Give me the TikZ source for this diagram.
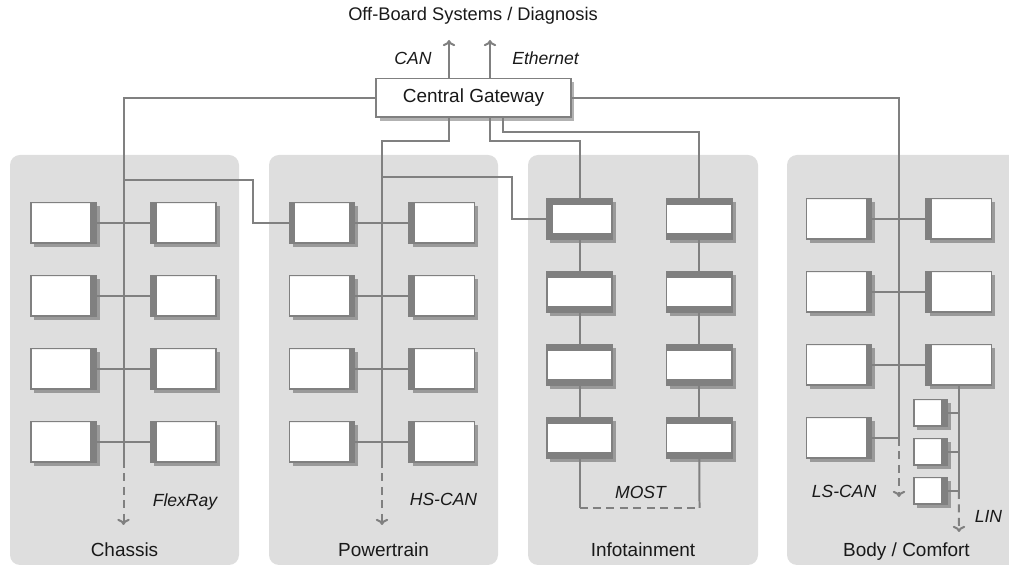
\documentclass[tikz,border=0pt]{standalone}
\usepackage{fontspec}
\setmainfont{Liberation Sans}
\usepackage{xcolor}
\usepackage{tikz}
\usetikzlibrary{positioning, shadows, arrows.meta}
\definecolor{panelgray}{RGB}{222,222,222}
\definecolor{linegray}{RGB}{128,128,128}
\definecolor{txtgray}{RGB}{25,25,25}
\tikzstyle{zone} = [fill=panelgray, rounded corners=0.2cm]
\tikzstyle{ecu} = [rectangle, draw=linegray, line width=0.03cm, fill=white,
    minimum width=1.31cm, minimum height=0.81cm, inner sep=0pt,
    drop shadow={shadow xshift=0.07cm, shadow yshift=-0.07cm, fill=black, opacity=0.3}]
\tikzstyle{linecu} = [ecu, minimum width=0.67cm, minimum height=0.53cm]
\tikzstyle{gateway} = [ecu, minimum width=3.9cm, minimum height=0.77cm]
\tikzstyle{bus} = [draw=linegray, line width=0.04cm]
\tikzstyle{busdash} = [bus, dash pattern=on 0.16cm off 0.11cm]
\tikzstyle{busend} = [busdash, ->]
\tikzstyle{caption} = [anchor=base]
\tikzstyle{buslabel} = [caption, font=\itshape]
\tikzset{
  sides/.style n args={4}{path picture={
    \fill[linegray] (path picture bounding box.south west) rectangle ([xshift=#1*0.02cm]path picture bounding box.north west);
    \fill[linegray] (path picture bounding box.south east) rectangle ([xshift=-#2*0.02cm]path picture bounding box.north east);
    \fill[linegray] (path picture bounding box.north west) rectangle ([yshift=-#3*0.02cm]path picture bounding box.north east);
    \fill[linegray] (path picture bounding box.south west) rectangle ([yshift=#4*0.02cm]path picture bounding box.south east);
  }},
  tapL/.style={sides={6}{0}{0}{0}},
  tapR/.style={sides={0}{6}{0}{0}},
  tapLR/.style={sides={6}{6}{0}{0}},
  tapTB/.style={sides={0}{0}{6}{6}},
  tapLTB/.style={sides={6}{0}{6}{6}}
}

\begin{document}
\begin{tikzpicture}[x=0.02cm, y=-0.02cm, node distance=1.46cm, >={To[length=3.5pt,width=7pt]},
    font=\fontsize{10.8}{13}\selectfont, every node/.style={text=txtgray}]
    \useasboundingbox (0,0) rectangle (1009,567);

    % Zones
    \fill [zone] (10,155) rectangle (239,565);
    \fill [zone] (269,155) rectangle (498,565);
    \fill [zone] (528,155) rectangle (758,565);
    \fill [zone] (787,155) rectangle (1026,565);
    \node [caption] (chassislbl) at (124.5,557) {Chassis};
    \node [caption] (ptlbl) at (383.5,557) {Powertrain};
    \node [caption] (infolbl) at (643,557) {Infotainment};
    \node [caption] (bodylbl) at (906.5,557) {Body / Comfort};

    % Gateway
    \node [gateway] (cgw) at (473.5,98) {Central Gateway};
    \node [caption, font=\fontsize{10.4}{12}\selectfont] (offboard) at (473,21) {Off-Board Systems / Diagnosis};
    \node [buslabel] (canlbl) at (413,65) {CAN};
    \node [buslabel] (ethlbl) at (545.5,65) {Ethernet};

    % Chassis ECUs
    \node [ecu, tapR] (ch1) at (63.5,223) {};
    \node [ecu, tapL, right of=ch1, node distance=2.4cm] (ch2) {};
    \node [ecu, tapR, below of=ch1] (ch3) {};
    \node [ecu, tapL, right of=ch3, node distance=2.4cm] (ch4) {};
    \node [ecu, tapR, below of=ch3] (ch5) {};
    \node [ecu, tapL, right of=ch5, node distance=2.4cm] (ch6) {};
    \node [ecu, tapR, below of=ch5] (ch7) {};
    \node [ecu, tapL, right of=ch7, node distance=2.4cm] (ch8) {};

    % Powertrain ECUs
    \node [ecu, tapLR] (pt1) at (322,223) {};
    \node [ecu, tapL, right of=pt1, node distance=2.4cm] (pt2) {};
    \node [ecu, tapR, below of=pt1] (pt3) {};
    \node [ecu, tapL, right of=pt3, node distance=2.4cm] (pt4) {};
    \node [ecu, tapR, below of=pt3] (pt5) {};
    \node [ecu, tapL, right of=pt5, node distance=2.4cm] (pt6) {};
    \node [ecu, tapR, below of=pt5] (pt7) {};
    \node [ecu, tapL, right of=pt7, node distance=2.4cm] (pt8) {};

    % Infotainment ECUs
    \node [ecu, tapLTB] (in1) at (579.5,219) {};
    \node [ecu, tapTB, right of=in1, node distance=2.4cm] (in2) {};
    \node [ecu, tapTB, below of=in1] (in3) {};
    \node [ecu, tapTB, right of=in3, node distance=2.4cm] (in4) {};
    \node [ecu, tapTB, below of=in3] (in5) {};
    \node [ecu, tapTB, right of=in5, node distance=2.4cm] (in6) {};
    \node [ecu, tapTB, below of=in5] (in7) {};
    \node [ecu, tapTB, right of=in7, node distance=2.4cm] (in8) {};

    % Body ECUs
    \node [ecu, tapR] (bd1) at (839,219) {};
    \node [ecu, tapL, right of=bd1, node distance=2.4cm] (bd2) {};
    \node [ecu, tapR, below of=bd1] (bd3) {};
    \node [ecu, tapL, right of=bd3, node distance=2.4cm] (bd4) {};
    \node [ecu, tapR, below of=bd3] (bd5) {};
    \node [ecu, tapL, right of=bd5, node distance=2.4cm] (bd6) {};
    \node [ecu, tapR, below of=bd5] (bd7) {};
    \node [linecu, tapR] (lin1) at (930.5,413) {};
    \node [linecu, tapR, below of=lin1, node distance=0.78cm] (lin2) {};
    \node [linecu, tapR, below of=lin2, node distance=0.78cm] (lin3) {};

    % Bus labels
    \node [buslabel] (flexlbl) at (185,507) {FlexRay};
    \node [buslabel] (hscanlbl) at (443.5,506) {HS-CAN};
    \node [buslabel] (mostlbl) at (640.5,499) {MOST};
    \node [buslabel] (lscanlbl) at (844,498) {LS-CAN};
    \node [buslabel] (linlbl) at (988.5,523) {LIN};

    % Bus points
    \coordinate (chtop) at (123.5,98);
    \coordinate (chlink) at (123.5,180);
    \coordinate (chstop) at (123.5,460);
    \coordinate (charrow) at (123.5,525);
    \coordinate (pttop) at (382,141);
    \coordinate (ptlink) at (382,177);
    \coordinate (ptstop) at (382,460);
    \coordinate (ptarrow) at (382,525);
    \coordinate (bdtop) at (899,98);
    \coordinate (bdarrow) at (899,497);
    \coordinate (linarrow) at (959,532);
    \coordinate (mostL) at (579.5,508);
    \coordinate (mostR) at (699.5,508);

    % Off-board connections
    \draw [bus, ->] ([xshift=-0.49cm]cgw.north) -- ++(0,-38);
    \draw [bus, ->] ([xshift=0.33cm]cgw.north) -- ++(0,-38);

    % FlexRay
    \draw [bus] (cgw.west) -- (chtop) -- (chstop);
    \draw [busend] (chstop) -- (charrow);
    \draw [bus] (ch1) -- (ch2);
    \draw [bus] (ch3) -- (ch4);
    \draw [bus] (ch5) -- (ch6);
    \draw [bus] (ch7) -- (ch8);
    \draw [bus] (chlink) -| ([xshift=-0.72cm]pt1.west) -- (pt1.west);

    % HS-CAN
    \draw [bus] ([xshift=-0.49cm]cgw.south) |- (pttop) -- (ptstop);
    \draw [busend] (ptstop) -- (ptarrow);
    \draw [bus] (pt1) -- (pt2);
    \draw [bus] (pt3) -- (pt4);
    \draw [bus] (pt5) -- (pt6);
    \draw [bus] (pt7) -- (pt8);
    \draw [bus] (ptlink) -| ([xshift=-0.68cm]in1.west) -- (in1.west);

    % MOST
    \draw [bus] ([xshift=0.33cm]cgw.south) -- ++(0,23) -| (in1.north);
    \draw [bus] ([xshift=0.59cm]cgw.south) -- ++(0,14) -| (in2.north);
    \draw [bus] (in1) -- (in3);
    \draw [bus] (in3) -- (in5);
    \draw [bus] (in5) -- (in7);
    \draw [bus] (in2) -- (in4);
    \draw [bus] (in4) -- (in6);
    \draw [bus] (in6) -- (in8);
    \draw [bus] (in7.south) -- (mostL);
    \draw [busdash] (mostL) -- (mostR);
    \draw [bus] (mostR) -- (in8.south);

    % LS-CAN
    \draw [bus] (cgw.east) -- (bdtop) |- (bd7.east);
    \draw [busend] (bd7.east -| bdtop) -- (bdarrow);
    \draw [bus] (bd1) -- (bd2);
    \draw [bus] (bd3) -- (bd4);
    \draw [bus] (bd5) -- (bd6);

    % LIN
    \draw [bus] (bd6.south) -- (bd6.south |- lin3.east);
    \draw [busend] (bd6.south |- lin3.east) -- (linarrow);
    \draw [bus] (lin1.east) -- (lin1.east -| bd6.south);
    \draw [bus] (lin2.east) -- (lin2.east -| bd6.south);
    \draw [bus] (lin3.east) -- (lin3.east -| bd6.south);

\end{tikzpicture}
\end{document}
